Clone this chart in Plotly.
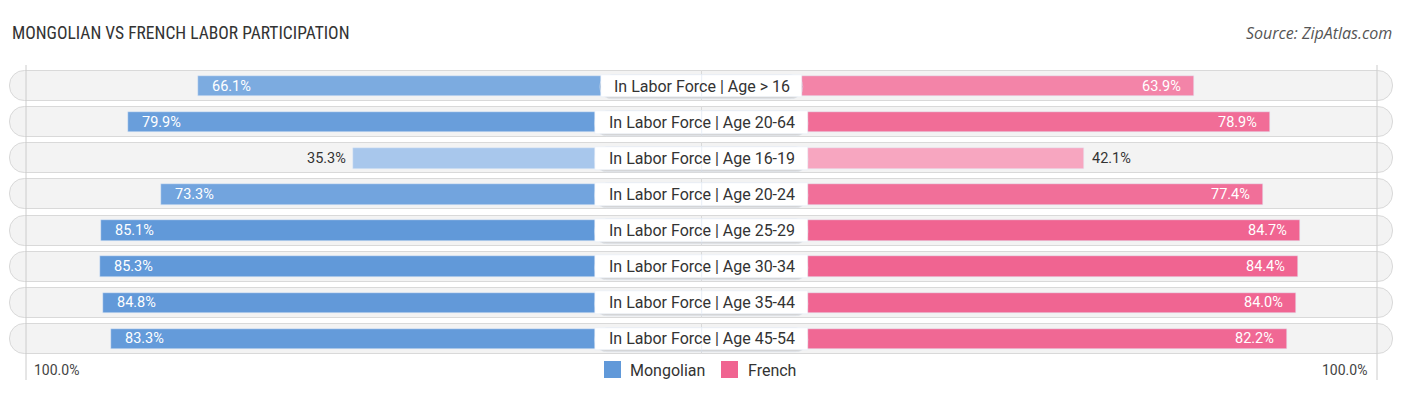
import plotly.graph_objects as go

# ---------------- data ----------------
categories = [
    "In Labor Force | Age > 16",
    "In Labor Force | Age 20-64",
    "In Labor Force | Age 16-19",
    "In Labor Force | Age 20-24",
    "In Labor Force | Age 25-29",
    "In Labor Force | Age 30-34",
    "In Labor Force | Age 35-44",
    "In Labor Force | Age 45-54",
]
mongolian = [66.1, 79.9, 35.3, 73.3, 85.1, 85.3, 84.8, 83.3]
french = [63.9, 78.9, 42.1, 77.4, 84.7, 84.4, 84.0, 82.2]
series_names = ["Mongolian", "French"]
axis_max_label = "100.0%"
title_text = "MONGOLIAN VS FRENCH LABOR PARTICIPATION"
source_text = "Source: ZipAtlas.com"

# ---------------- geometry / style ----------------
W, H = 1406, 395
CX = 701.5          # centre pixel
PXU = 5.06          # pixels per percent unit
OFF = 169.5 / PXU   # gap from centre to bar zero (in units)
ROW0 = 86.0         # pixel y of first row centre
STEP = 36.14        # pixels between rows
AXMAX = 100.0

xr = [-CX / PXU, (W - CX) / PXU]
yr = [(H - ROW0) / STEP, -ROW0 / STEP]

FONT = "Roboto, 'Open Sans', Arial, sans-serif"
TXT = "#333333"

BLUE_LO, BLUE_HI = (168, 199, 236), (97, 153, 217)
PINK_LO, PINK_HI = (247, 166, 192), (240, 100, 145)


def shade(vals, lo, hi):
    vmin, vmax = min(vals), max(vals)
    out = []
    for v in vals:
        t = (v - vmin) / (vmax - vmin) if vmax > vmin else 1.0
        c = [round(lo[i] + t * (hi[i] - lo[i])) for i in range(3)]
        out.append("rgb(%d,%d,%d)" % tuple(c))
    return out


# approximate Roboto advance widths (em)
EM = {" ": 0.248, "I": 0.283, "n": 0.552, "L": 0.539, "a": 0.544, "b": 0.561,
      "o": 0.570, "r": 0.338, "F": 0.545, "c": 0.523, "e": 0.529, "|": 0.243,
      "A": 0.652, "g": 0.560, "-": 0.276, ">": 0.509}


def text_px(s, size):
    return sum(EM.get(ch, 0.562) for ch in s) * size


LABEL_SIZE = 16
ys = list(range(len(categories)))
n = len(categories)

fig = go.Figure()

# background pills (two halves, rounded at the outer ends)
PILL = (1393 - CX) / PXU
for sgn in (-1, 1):
    fig.add_trace(go.Bar(
        y=ys, x=[sgn * PILL] * n, orientation="h", width=0.83,
        marker=dict(color="#f3f3f3", line=dict(color="#d9d9d9", width=1), cornerradius=15),
        hoverinfo="skip", showlegend=False))

# value bars
fig.add_trace(go.Bar(
    y=ys, x=[-(OFF + v) for v in mongolian], orientation="h", width=0.57,
    name=series_names[0],
    marker=dict(color=shade(mongolian, BLUE_LO, BLUE_HI), cornerradius=10),
    customdata=mongolian, hovertemplate="%{customdata:.1f}%<extra>" + series_names[0] + "</extra>",
    showlegend=False))
fig.add_trace(go.Bar(
    y=ys, x=[OFF + v for v in french], orientation="h", width=0.57,
    name=series_names[1],
    marker=dict(color=shade(french, PINK_LO, PINK_HI), cornerradius=10),
    customdata=french, hovertemplate="%{customdata:.1f}%<extra>" + series_names[1] + "</extra>",
    showlegend=False))

# label boxes (shadow + white)
half = [(text_px(c, LABEL_SIZE) + 26) / 2 / PXU for c in categories]
for sgn in (-1, 1):
    fig.add_trace(go.Bar(
        y=[y + 0.03 for y in ys], x=[sgn * (h + 0.15) for h in half], orientation="h", width=0.68,
        marker=dict(color="rgba(0,0,0,0.13)", cornerradius=12),
        hoverinfo="skip", showlegend=False))
for sgn in (-1, 1):
    fig.add_trace(go.Bar(
        y=ys, x=[sgn * h for h in half], orientation="h", width=0.63,
        marker=dict(color="#ffffff", cornerradius=11.5),
        hoverinfo="skip", showlegend=False))

annotations = []
for i, c in enumerate(categories):
    annotations.append(dict(x=0, y=i, text=c, showarrow=False, xanchor="center", yanchor="middle",
                            font=dict(family=FONT, size=LABEL_SIZE, color=TXT)))

VAL_SIZE = 14.5
INSIDE_MIN = 50
for i, v in enumerate(mongolian):
    if v >= INSIDE_MIN:
        annotations.append(dict(x=-(OFF + v), y=i, text="%.1f%%" % v, showarrow=False,
                                xanchor="left", yanchor="middle", xshift=12,
                                font=dict(family=FONT, size=VAL_SIZE, color="white")))
    else:
        annotations.append(dict(x=-(OFF + v), y=i, text="%.1f%%" % v, showarrow=False,
                                xanchor="right", yanchor="middle", xshift=-5,
                                font=dict(family=FONT, size=VAL_SIZE, color=TXT)))
for i, v in enumerate(french):
    if v >= INSIDE_MIN:
        annotations.append(dict(x=OFF + v, y=i, text="%.1f%%" % v, showarrow=False,
                                xanchor="right", yanchor="middle", xshift=-11,
                                font=dict(family=FONT, size=VAL_SIZE, color="white")))
    else:
        annotations.append(dict(x=OFF + v, y=i, text="%.1f%%" % v, showarrow=False,
                                xanchor="left", yanchor="middle", xshift=6,
                                font=dict(family=FONT, size=VAL_SIZE, color=TXT)))

# axis end labels
yaxis_lbl = (370 - ROW0) / STEP
annotations.append(dict(x=-(OFF + AXMAX), y=yaxis_lbl, text=axis_max_label, showarrow=False,
                        xanchor="left", yanchor="middle", xshift=6,
                        font=dict(family=FONT, size=14, color="#444")))
annotations.append(dict(x=OFF + AXMAX, y=yaxis_lbl, text=axis_max_label, showarrow=False,
                        xanchor="right", yanchor="middle", xshift=-8,
                        font=dict(family=FONT, size=14, color="#444")))

# title & source
annotations.append(dict(xref="paper", yref="paper", x=10 / W, y=1 - 33 / H, text=title_text,
                        showarrow=False, xanchor="left", yanchor="middle",
                        font=dict(family="'Liberation Sans Narrow', 'Roboto Condensed', Roboto, sans-serif",
                                  size=17.5, color="#333")))
annotations.append(dict(xref="paper", yref="paper", x=1394 / W, y=1 - 33 / H, text=source_text,
                        showarrow=False, xanchor="right", yanchor="middle",
                        font=dict(family="'Open Sans', Roboto, sans-serif", size=16, color="#555",
                                  style="italic")))

# legend (custom)
shapes = []
leg_items = [(604, 628, BLUE_HI), (721, 746, PINK_HI)]
for (sx, tx, col), name in zip(leg_items, series_names):
    shapes.append(dict(type="rect", xref="paper", yref="paper",
                       x0=sx / W, x1=(sx + 17) / W, y0=1 - 378 / H, y1=1 - 361 / H,
                       fillcolor="rgb(%d,%d,%d)" % col, line=dict(width=0)))
    annotations.append(dict(xref="paper", yref="paper", x=tx / W, y=1 - 370 / H, text=name,
                            showarrow=False, xanchor="left", yanchor="middle",
                            font=dict(family=FONT, size=16, color=TXT)))

# 100% reference lines
for sgn in (-1, 1):
    shapes.append(dict(type="line", xref="x", yref="y",
                       x0=sgn * (OFF + AXMAX), x1=sgn * (OFF + AXMAX),
                       y0=(65 - ROW0) / STEP, y1=(380 - ROW0) / STEP,
                       line=dict(color="#cccccc", width=1), layer="above"))

fig.update_layout(
    width=W, height=H, margin=dict(l=0, r=0, t=0, b=0),
    barmode="overlay", bargap=0,
    plot_bgcolor="white", paper_bgcolor="white",
    xaxis=dict(range=xr, visible=False, fixedrange=True),
    yaxis=dict(range=yr, visible=False, fixedrange=True),
    showlegend=False,
    annotations=annotations, shapes=shapes,
    font=dict(family=FONT),
)

fig.write_html("out.html", config={"displayModeBar": False},
               post_script="document.body.style.margin='0px';document.body.style.overflow='hidden';")
